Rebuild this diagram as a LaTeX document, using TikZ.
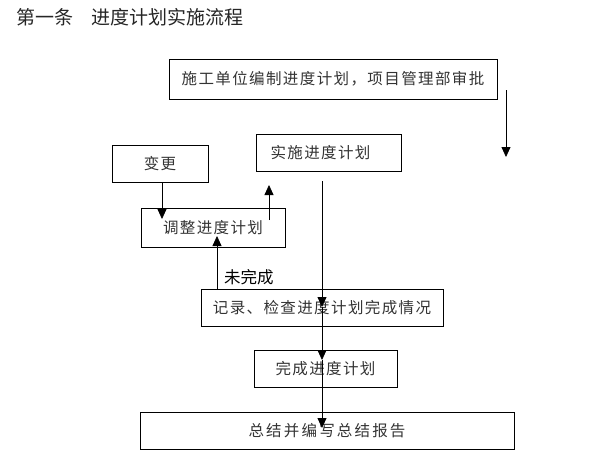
\documentclass[tikz,border=0pt]{standalone}
\usepackage{fontspec}
\setmainfont{Noto Sans CJK SC}
\newfontfamily\cjksp[LetterSpace=9]{Noto Sans CJK SC}
\newfontfamily\cjkwide[LetterSpace=14]{Noto Sans CJK SC}
\usetikzlibrary{arrows.meta,calc}
\tikzset{
  box/.style={draw=black, line width=0.8pt, rectangle, inner sep=0pt,
    font=\cjksp\fontsize{15.5pt}{17pt}\selectfont, text=black!80},
  arr/.style={draw=black, line width=0.8pt, -{Triangle[width=9pt,length=10pt]}}
}
\begin{document}
\begin{tikzpicture}[x=1pt,y=-1pt]
\useasboundingbox (0,0) rectangle (614,466);
% title
\node[anchor=west, font=\fontsize{19pt}{21pt}\selectfont, inner sep=0pt, text=black!85] (title) at (16,17) {第一条\hspace{18pt}进度计划实施流程};
% boxes
\node[box, minimum width=328pt, minimum height=40pt] (plan) at (333,79) {施工单位编制进度计划，项目管理部审批};
\node[box, minimum width=145pt, minimum height=37pt] (impl) at (328.5,152.5) {实施进度计划\rule{16pt}{0pt}};
\node[box, minimum width=96pt, minimum height=37pt] (chg) at (160,163.5) {变更};
\node[box, minimum width=144pt, minimum height=39pt] (adj) at (213,227.5) {调整进度计划};
\node[box, minimum width=242pt, minimum height=37pt] (rec) at (322,307.5) {记录、检查进度计划完成情况};
\node[box, minimum width=143pt, minimum height=37pt] (done) at (325.5,368.5) {完成进度计划};
\node[box, minimum width=374pt, minimum height=37pt, font=\cjkwide\fontsize{15.5pt}{17pt}\selectfont] (sum) at (327,430.5) {总结并编写总结报告};
% label
\node[anchor=west, inner sep=0pt, font=\fontsize{16.5pt}{18pt}\selectfont] (unf) at (224,277) {未完成};
% coordinates
\coordinate (r1) at (506,90);
\coordinate (r2) at (506,157);
\coordinate (s0) at (322,181);
\coordinate (t1) at (322,307);
\coordinate (t2) at (322,360);
\coordinate (t3) at (322,428);
\coordinate (c1) at (162,219);
\coordinate (u1) at (217,236);
\coordinate (a1) at (269,220);
\coordinate (a2) at (269,185);
% connectors
\draw[arr] (r1) -- (r2);
\draw[arr] (chg.south -| c1) -- (c1);
\draw[arr] (a1) -- (a2);
\draw[arr] (rec.north -| u1) -- (u1);
\draw[arr] (s0) -- (t1);
\draw[arr] (t1) -- (t2);
\draw[arr] (t2) -- (t3);
\end{tikzpicture}
\end{document}
